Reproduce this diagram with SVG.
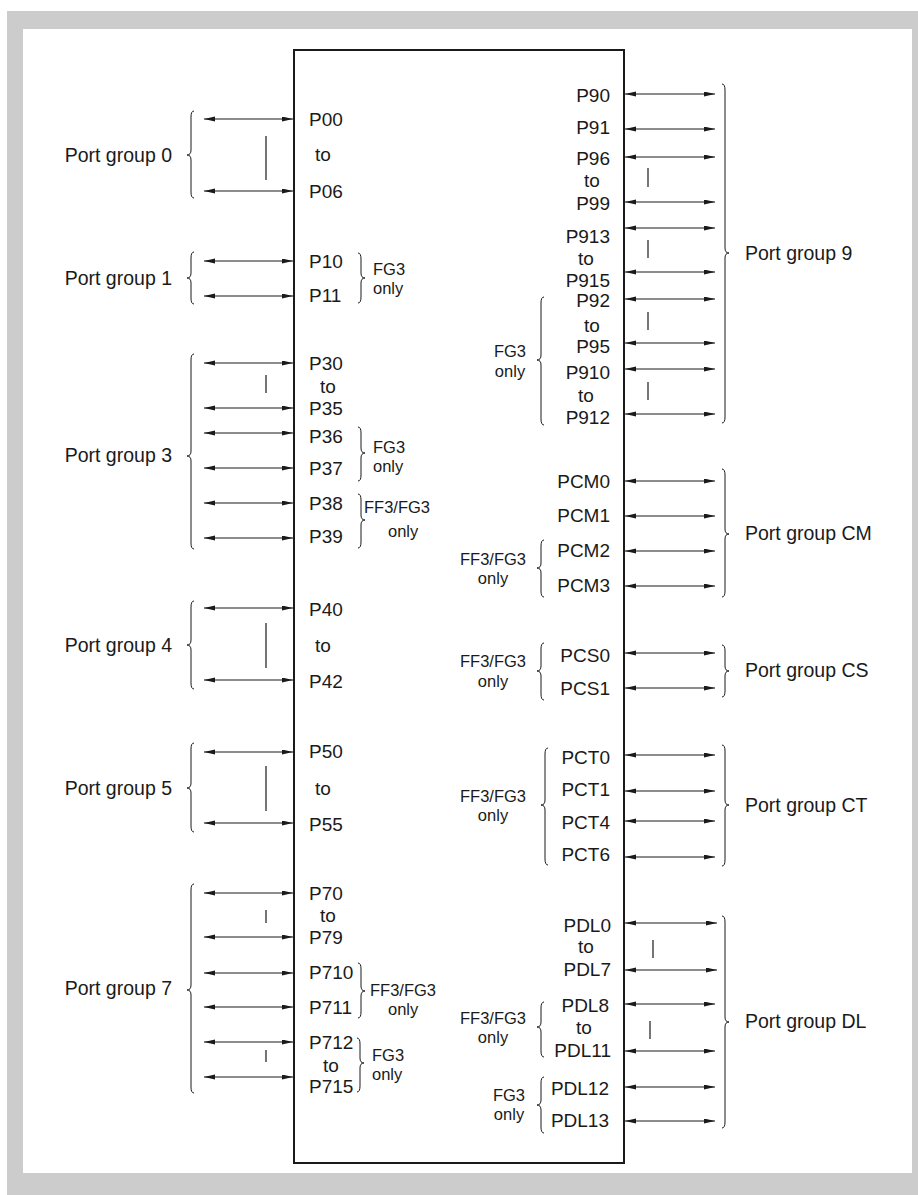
<svg xmlns="http://www.w3.org/2000/svg" width="918" height="1195" viewBox="0 0 918 1195">
<style>
text{font-family:"Liberation Sans",Arial,sans-serif;fill:#1a1a1a}
.p{font-size:19px}
.pe{font-size:19px;text-anchor:end}
.pm{font-size:19px;text-anchor:middle}
.s{font-size:16.5px}
.sm{font-size:16.5px;text-anchor:middle}
.g{font-size:19.5px}
.ge{font-size:19.5px;text-anchor:end}
.a{stroke:#1a1a1a;stroke-width:1.1;fill:none;marker-start:url(#ah);marker-end:url(#ah)}
.b{stroke:#1a1a1a;stroke-width:1;fill:none}
.c{stroke:#1a1a1a;stroke-width:1.2}
</style>
<defs>
<marker id="ah" markerUnits="userSpaceOnUse" markerWidth="12" markerHeight="6" refX="11" refY="2.5" orient="auto-start-reverse">
<path d="M0,0 L11,2.5 L0,5 z" fill="#1a1a1a"/>
</marker>
</defs>
<rect x="7" y="11" width="911" height="1184" fill="#cccccc"/>
<rect x="23" y="29" width="889" height="1144" fill="#ffffff"/>
<g id="chip"><rect x="294" y="50" width="330" height="1113" fill="none" stroke="#1a1a1a" stroke-width="2"/></g>
<g id="connectors">
<line class="a" x1="204" y1="119" x2="293" y2="119"/>
<line class="a" x1="204" y1="191" x2="293" y2="191"/>
<line class="a" x1="204" y1="261" x2="293" y2="261"/>
<line class="a" x1="204" y1="296" x2="293" y2="296"/>
<line class="a" x1="204" y1="363" x2="293" y2="363"/>
<line class="a" x1="204" y1="408" x2="293" y2="408"/>
<line class="a" x1="204" y1="433" x2="293" y2="433"/>
<line class="a" x1="204" y1="468" x2="293" y2="468"/>
<line class="a" x1="204" y1="503" x2="293" y2="503"/>
<line class="a" x1="204" y1="538" x2="293" y2="538"/>
<line class="a" x1="204" y1="608" x2="293" y2="608"/>
<line class="a" x1="204" y1="680" x2="293" y2="680"/>
<line class="a" x1="204" y1="752" x2="293" y2="752"/>
<line class="a" x1="204" y1="823" x2="293" y2="823"/>
<line class="a" x1="204" y1="893" x2="293" y2="893"/>
<line class="a" x1="204" y1="937" x2="293" y2="937"/>
<line class="a" x1="204" y1="973" x2="293" y2="973"/>
<line class="a" x1="204" y1="1007" x2="293" y2="1007"/>
<line class="a" x1="204" y1="1042" x2="293" y2="1042"/>
<line class="a" x1="204" y1="1077" x2="293" y2="1077"/>
<line class="a" x1="625" y1="94" x2="715" y2="94"/>
<line class="a" x1="625" y1="129" x2="715" y2="129"/>
<line class="a" x1="625" y1="157" x2="715" y2="157"/>
<line class="a" x1="625" y1="202" x2="715" y2="202"/>
<line class="a" x1="625" y1="228" x2="715" y2="228"/>
<line class="a" x1="625" y1="272" x2="715" y2="272"/>
<line class="a" x1="625" y1="299" x2="715" y2="299"/>
<line class="a" x1="625" y1="343" x2="715" y2="343"/>
<line class="a" x1="625" y1="369" x2="715" y2="369"/>
<line class="a" x1="625" y1="414" x2="715" y2="414"/>
<line class="a" x1="625" y1="481" x2="715" y2="481"/>
<line class="a" x1="625" y1="516" x2="715" y2="516"/>
<line class="a" x1="625" y1="551" x2="715" y2="551"/>
<line class="a" x1="625" y1="586" x2="715" y2="586"/>
<line class="a" x1="625" y1="653" x2="715" y2="653"/>
<line class="a" x1="625" y1="688" x2="715" y2="688"/>
<line class="a" x1="625" y1="755" x2="715" y2="755"/>
<line class="a" x1="625" y1="791" x2="715" y2="791"/>
<line class="a" x1="625" y1="821" x2="715" y2="821"/>
<line class="a" x1="625" y1="857" x2="715" y2="857"/>
<line class="a" x1="625" y1="923" x2="717" y2="923"/>
<line class="a" x1="625" y1="970" x2="717" y2="970"/>
<line class="a" x1="625" y1="1004" x2="715" y2="1004"/>
<line class="a" x1="625" y1="1051" x2="715" y2="1051"/>
<line class="a" x1="625" y1="1087" x2="715" y2="1087"/>
<line class="a" x1="625" y1="1121" x2="715" y2="1121"/>
<line class="c" x1="266" y1="136" x2="266" y2="180"/>
<line class="c" x1="266" y1="375" x2="266" y2="393"/>
<line class="c" x1="266" y1="623" x2="266" y2="668"/>
<line class="c" x1="266" y1="766" x2="266" y2="811"/>
<line class="c" x1="266" y1="910" x2="266" y2="923"/>
<line class="c" x1="266" y1="1050" x2="266" y2="1062"/>
<line class="c" x1="648" y1="168" x2="648" y2="187"/>
<line class="c" x1="648" y1="240" x2="648" y2="258"/>
<line class="c" x1="648" y1="312" x2="648" y2="330"/>
<line class="c" x1="648" y1="382" x2="648" y2="400"/>
<line class="c" x1="653" y1="940" x2="653" y2="958"/>
<line class="c" x1="650" y1="1021" x2="650" y2="1039"/>
</g>
<g id="port-group-0">
<path class="b" d="M194,111 Q191,111 191,117 L191,150 Q191,155 187,155 Q191,155 191,160 L191,192 Q191,198 194,198"/>
<text class="ge" x="172" y="162">Port group 0</text>
<text class="p" x="309" y="126">P00</text>
<text class="p" x="315" y="161">to</text>
<text class="p" x="309" y="198">P06</text>
</g>
<g id="port-group-1">
<path class="b" d="M194,252 Q191,252 191,258 L191,273 Q191,278 187,278 Q191,278 191,283 L191,298 Q191,304 194,304"/>
<text class="ge" x="172" y="285">Port group 1</text>
<text class="p" x="309" y="268">P10</text>
<text class="p" x="309" y="302">P11</text>
<path class="b" d="M358,253 Q361,253 361,259 L361,273 Q361,278 365,278 Q361,278 361,283 L361,297 Q361,303 358,303"/>
<text class="s" x="373" y="275">FG3</text>
<text class="s" x="373" y="294">only</text>
</g>
<g id="port-group-3">
<path class="b" d="M194,354 Q191,354 191,360 L191,451 Q191,456 187,456 Q191,456 191,461 L191,543 Q191,549 194,549"/>
<text class="ge" x="172" y="462">Port group 3</text>
<text class="p" x="309" y="370">P30</text>
<text class="pm" x="328" y="393">to</text>
<text class="p" x="309" y="415">P35</text>
<text class="p" x="309" y="443">P36</text>
<text class="p" x="309" y="475">P37</text>
<text class="p" x="309" y="510">P38</text>
<text class="p" x="309" y="543">P39</text>
<path class="b" d="M358,427 Q361,427 361,433 L361,448 Q361,453 365,453 Q361,453 361,458 L361,475 Q361,481 358,481"/>
<text class="s" x="373" y="453">FG3</text>
<text class="s" x="373" y="472">only</text>
<path class="b" d="M358,494 Q361,494 361,500 L361,515 Q361,520 365,520 Q361,520 361,525 L361,542 Q361,548 358,548"/>
<text class="s" x="364" y="513">FF3/FG3</text>
<text class="s" x="388" y="537">only</text>
</g>
<g id="port-group-4">
<path class="b" d="M194,601 Q191,601 191,607 L191,640 Q191,645 187,645 Q191,645 191,650 L191,683 Q191,689 194,689"/>
<text class="ge" x="172" y="652">Port group 4</text>
<text class="p" x="309" y="616">P40</text>
<text class="p" x="315" y="652">to</text>
<text class="p" x="309" y="688">P42</text>
</g>
<g id="port-group-5">
<path class="b" d="M194,743 Q191,743 191,749 L191,783 Q191,788 187,788 Q191,788 191,793 L191,826 Q191,832 194,832"/>
<text class="ge" x="172" y="795">Port group 5</text>
<text class="p" x="309" y="758">P50</text>
<text class="p" x="315" y="795">to</text>
<text class="p" x="309" y="831">P55</text>
</g>
<g id="port-group-7">
<path class="b" d="M194,884 Q191,884 191,890 L191,985 Q191,990 187,990 Q191,990 191,995 L191,1087 Q191,1093 194,1093"/>
<text class="ge" x="172" y="995">Port group 7</text>
<text class="p" x="309" y="900">P70</text>
<text class="pm" x="328" y="922">to</text>
<text class="p" x="309" y="944">P79</text>
<text class="p" x="309" y="979">P710</text>
<text class="p" x="309" y="1014">P711</text>
<text class="p" x="309" y="1049">P712</text>
<text class="pm" x="331" y="1072">to</text>
<text class="p" x="309" y="1093">P715</text>
<path class="b" d="M358,963 Q361,963 361,969 L361,986 Q361,991 365,991 Q361,991 361,996 L361,1012 Q361,1018 358,1018"/>
<text class="s" x="370" y="996">FF3/FG3</text>
<text class="s" x="388" y="1015">only</text>
<path class="b" d="M357,1038 Q360,1038 360,1044 L360,1058 Q360,1063 364,1063 Q360,1063 360,1068 L360,1086 Q360,1092 357,1092"/>
<text class="s" x="372" y="1061">FG3</text>
<text class="s" x="372" y="1080">only</text>
</g>
<g id="port-group-9">
<path class="b" d="M722,84 Q725,84 725,90 L725,248 Q725,253 729,253 Q725,253 725,258 L725,417 Q725,423 722,423"/>
<text class="g" x="745" y="260">Port group 9</text>
<text class="pe" x="610" y="102">P90</text>
<text class="pe" x="610" y="134">P91</text>
<text class="pe" x="610" y="165">P96</text>
<text class="pm" x="592" y="187">to</text>
<text class="pe" x="610" y="210">P99</text>
<text class="pe" x="610" y="243">P913</text>
<text class="pm" x="586" y="265">to</text>
<text class="pe" x="610" y="287">P915</text>
<text class="pe" x="610" y="307">P92</text>
<text class="pm" x="592" y="332">to</text>
<text class="pe" x="610" y="353">P95</text>
<text class="pe" x="610" y="379">P910</text>
<text class="pm" x="586" y="402">to</text>
<text class="pe" x="610" y="424">P912</text>
<path class="b" d="M544,297 Q541,297 541,303 L541,355 Q541,360 537,360 Q541,360 541,365 L541,419 Q541,425 544,425"/>
<text class="sm" x="510" y="357">FG3</text>
<text class="sm" x="510" y="377">only</text>
</g>
<g id="port-group-cm">
<path class="b" d="M722,469 Q725,469 725,475 L725,529 Q725,534 729,534 Q725,534 725,539 L725,591 Q725,597 722,597"/>
<text class="g" x="745" y="540">Port group CM</text>
<text class="pe" x="610" y="488">PCM0</text>
<text class="pe" x="610" y="522">PCM1</text>
<text class="pe" x="610" y="557">PCM2</text>
<text class="pe" x="610" y="592">PCM3</text>
<path class="b" d="M544,540 Q541,540 541,546 L541,563 Q541,568 537,568 Q541,568 541,573 L541,591 Q541,597 544,597"/>
<text class="sm" x="493" y="565">FF3/FG3</text>
<text class="sm" x="493" y="584">only</text>
</g>
<g id="port-group-cs">
<path class="b" d="M722,645 Q725,645 725,651 L725,666 Q725,671 729,671 Q725,671 725,676 L725,691 Q725,697 722,697"/>
<text class="g" x="745" y="677">Port group CS</text>
<text class="pe" x="610" y="662">PCS0</text>
<text class="pe" x="610" y="695">PCS1</text>
<path class="b" d="M544,643 Q541,643 541,649 L541,666 Q541,671 537,671 Q541,671 541,676 L541,694 Q541,700 544,700"/>
<text class="sm" x="493" y="667">FF3/FG3</text>
<text class="sm" x="493" y="687">only</text>
</g>
<g id="port-group-ct">
<path class="b" d="M722,745 Q725,745 725,751 L725,800 Q725,805 729,805 Q725,805 725,810 L725,860 Q725,866 722,866"/>
<text class="g" x="745" y="812">Port group CT</text>
<text class="pe" x="610" y="764">PCT0</text>
<text class="pe" x="610" y="796">PCT1</text>
<text class="pe" x="610" y="829">PCT4</text>
<text class="pe" x="610" y="861">PCT6</text>
<path class="b" d="M548,748 Q545,748 545,754 L545,800 Q545,805 541,805 Q545,805 545,810 L545,859 Q545,865 548,865"/>
<text class="sm" x="493" y="802">FF3/FG3</text>
<text class="sm" x="493" y="821">only</text>
</g>
<g id="port-group-dl">
<path class="b" d="M722,916 Q725,916 725,922 L725,1017 Q725,1022 729,1022 Q725,1022 725,1027 L725,1122 Q725,1128 722,1128"/>
<text class="g" x="745" y="1028">Port group DL</text>
<text class="pe" x="611" y="932">PDL0</text>
<text class="pm" x="586" y="953">to</text>
<text class="pe" x="611" y="976">PDL7</text>
<text class="pe" x="609" y="1012">PDL8</text>
<text class="pm" x="584" y="1034">to</text>
<text class="pe" x="611" y="1057">PDL11</text>
<text class="pe" x="609" y="1095">PDL12</text>
<text class="pe" x="609" y="1127">PDL13</text>
<path class="b" d="M544,1002 Q541,1002 541,1008 L541,1022 Q541,1027 537,1027 Q541,1027 541,1032 L541,1051 Q541,1057 544,1057"/>
<text class="sm" x="493" y="1024">FF3/FG3</text>
<text class="sm" x="493" y="1043">only</text>
<path class="b" d="M544,1077 Q541,1077 541,1083 L541,1100 Q541,1105 537,1105 Q541,1105 541,1110 L541,1127 Q541,1133 544,1133"/>
<text class="sm" x="509" y="1101">FG3</text>
<text class="sm" x="509" y="1120">only</text>
</g>
</svg>
